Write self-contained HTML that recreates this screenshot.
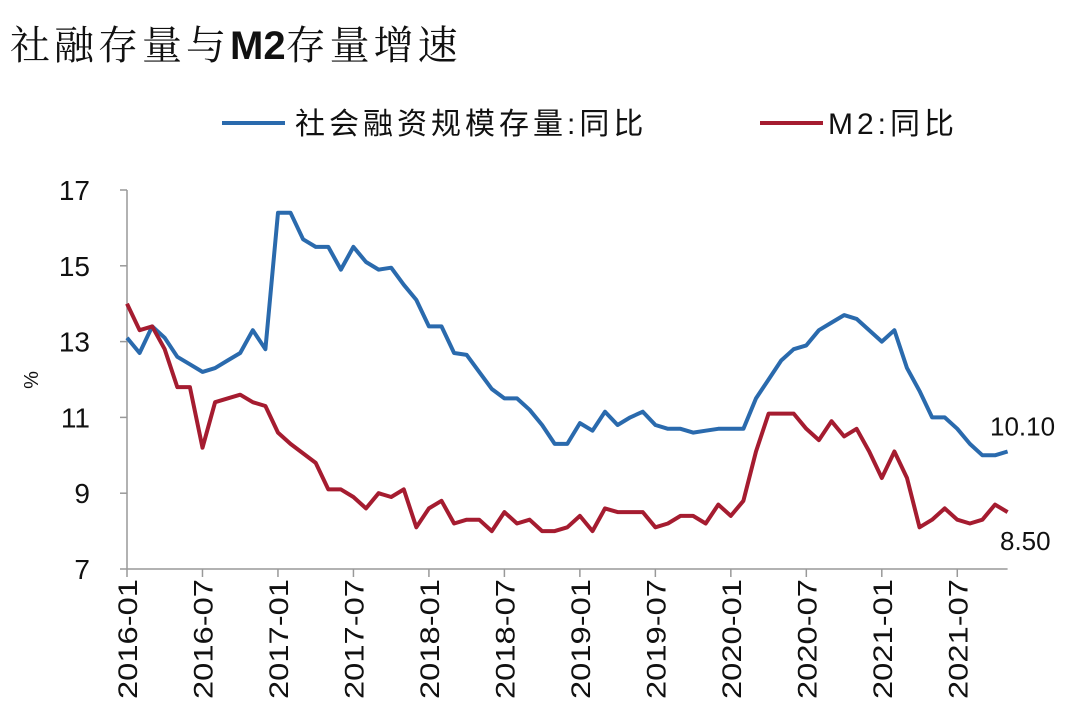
<!DOCTYPE html>
<html><head><meta charset="utf-8"><style>
body{margin:0;background:#fff;width:1080px;height:722px;overflow:hidden;font-family:"Liberation Sans","Noto Sans CJK SC",sans-serif;}
#title{position:absolute;left:10px;top:14px;font-size:40px;letter-spacing:4px;font-family:"Liberation Sans","Noto Serif CJK SC",serif;color:#111;white-space:nowrap;}
#title .m{letter-spacing:0;font-weight:bold;}
svg{position:absolute;left:0;top:0}
</style></head><body>
<div id="title">社融存量与<span class="m">M2</span>存量增速</div>
<svg id="chart" width="1080" height="722"></svg>
<script>
const categories = [];
for (let y = 2016; y <= 2021; y++) for (let m = 1; m <= 12; m++) { if (y === 2021 && m > 11) break; categories.push(y + '-' + String(m).padStart(2, '0')); }
const tsfValues = [13.1,12.7,13.4,13.1,12.6,12.4,12.2,12.3,12.5,12.7,13.3,12.8,
16.4,16.4,15.7,15.5,15.5,14.9,15.5,15.1,14.9,14.95,14.5,14.1,
13.4,13.4,12.7,12.65,12.2,11.75,11.5,11.5,11.2,10.8,10.3,10.3,
10.85,10.65,11.15,10.8,11.0,11.15,10.8,10.7,10.7,10.6,10.65,10.7,
10.7,10.7,11.5,12.0,12.5,12.8,12.9,13.3,13.5,13.7,13.6,13.3,
13.0,13.3,12.3,11.7,11.0,11.0,10.7,10.3,10.0,10.0,10.1];
const m2Values = [14.0,13.3,13.4,12.8,11.8,11.8,10.2,11.4,11.5,11.6,11.4,11.3,
10.6,10.3,10.05,9.8,9.1,9.1,8.9,8.6,9.0,8.9,9.1,8.1,
8.6,8.8,8.2,8.3,8.3,8.0,8.5,8.2,8.3,8.0,8.0,8.1,
8.4,8.0,8.6,8.5,8.5,8.5,8.1,8.2,8.4,8.4,8.2,8.7,
8.4,8.8,10.1,11.1,11.1,11.1,10.7,10.4,10.9,10.5,10.7,10.1,
9.4,10.1,9.4,8.1,8.3,8.6,8.3,8.2,8.3,8.7,8.5];
const yTicks = [7,9,11,13,15,17];
const xTickLabels = ['2016-01','2016-07','2017-01','2017-07','2018-01','2018-07','2019-01','2019-07','2020-01','2020-07','2021-01','2021-07'];
const seriesNames = ['社会融资规模存量:同比','M2:同比'];

const NS = 'http://www.w3.org/2000/svg';
const svg = document.getElementById('chart');
const X0 = 127, XSTEP = 12.58, Y0 = 569, YTOP = 190, YMIN = 7, YMAX = 17;
const xScale = i => X0 + i * XSTEP;
const yScale = v => Y0 - (v - YMIN) / (YMAX - YMIN) * (Y0 - YTOP);
function el(tag, attrs, parent) { const e = document.createElementNS(NS, tag); for (const k in attrs) e.setAttribute(k, attrs[k]); (parent || svg).appendChild(e); return e; }

const yAxis = el('line', {x1: X0, y1: YTOP, x2: X0, y2: Y0, stroke: '#999', 'stroke-width': 1.5});


const xAxis = el('line', {x1: X0, y1: Y0, x2: xScale(categories.length - 1), y2: Y0, stroke: '#999', 'stroke-width': 1.5});



yTicks.forEach(v => {
  const y = yScale(v);
  const t = el('line', {x1: X0 - 7, y1: y, x2: X0, y2: y, stroke: '#999', 'stroke-width': 1.5});
  
  
  const lb = el('text', {x: 90, y: y + 10, 'text-anchor': 'end', 'font-size': 28, fill: '#111'});
  lb.textContent = v;
  
  
});

xTickLabels.forEach(lab => {
  const i = categories.indexOf(lab);
  const x = xScale(i);
  const t = el('line', {x1: x, y1: Y0, x2: x, y2: Y0 + 8, stroke: '#999', 'stroke-width': 1.5});
  
  
  const lb = el('text', {x: 0, y: 0, 'text-anchor': 'end', 'font-size': 27, fill: '#111', textLength: 120, lengthAdjust: 'spacingAndGlyphs', transform: `translate(${x + 10},${Y0 + 10}) rotate(-90)`});
  lb.textContent = lab;
  
  
});

const yTitle = el('text', {x: 0, y: 0, 'text-anchor': 'middle', 'font-size': 20, fill: '#111', transform: 'translate(38,380) rotate(-90)'});
yTitle.textContent = '%';



function drawLine(vals, color, name) {
  const d = vals.map((v, i) => (i ? 'L' : 'M') + xScale(i).toFixed(1) + ',' + yScale(v).toFixed(1)).join('');
  const p = el('path', {d, fill: 'none', stroke: color, 'stroke-width': 4, 'stroke-linejoin': 'round'});
  
  
}
drawLine(tsfValues, '#2a6aad', 'tsf-line');
drawLine(m2Values, '#a51c30', 'm2-line');

const lastI = categories.length - 1;
const l1 = el('text', {x: 990, y: yScale(tsfValues[lastI]) - 16, 'font-size': 26, fill: '#111'});
l1.textContent = tsfValues[lastI].toFixed(2);


const l2 = el('text', {x: 1000, y: yScale(m2Values[lastI]) + 38, 'font-size': 26, fill: '#111'});
l2.textContent = m2Values[lastI].toFixed(2);



const legendDefs = [[222, 295, '#2a6aad', 'legend-entry-tsf'], [760, 828, '#a51c30', 'legend-entry-m2']];
legendDefs.forEach((d, k) => {
  const g = el('g', {});
  
  
  el('line', {x1: d[0], y1: 123, x2: d[0] + 63, y2: 123, stroke: d[2], 'stroke-width': 4}, g);
  const t = el('text', {x: d[1], y: 134, 'font-size': 30, 'letter-spacing': 4, fill: '#111'}, g);
  t.textContent = seriesNames[k];
});
</script>
</body></html>
